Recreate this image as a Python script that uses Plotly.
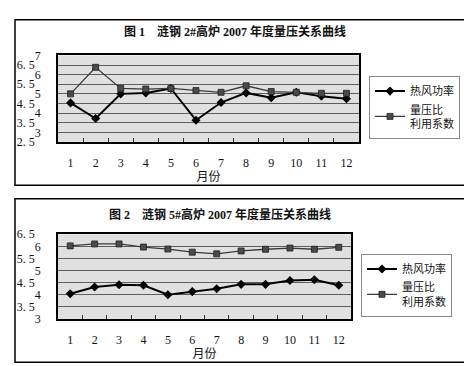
import plotly.graph_objects as go

months = [str(i) for i in range(1, 13)]

# Figure 1: 涟钢 2#高炉
f1_power = [4.53, 3.72, 5.0, 5.05, 5.28, 3.63, 4.55, 5.05, 4.8, 5.08, 4.88, 4.75]
f1_ratio = [5.0, 6.38, 5.28, 5.25, 5.28, 5.17, 5.08, 5.42, 5.12, 5.08, 5.03, 5.03]
# Figure 2: 涟钢 5#高炉
f2_power = [4.04, 4.32, 4.41, 4.39, 4.0, 4.13, 4.25, 4.43, 4.43, 4.59, 4.62, 4.39]
f2_ratio = [6.02, 6.1, 6.1, 5.97, 5.89, 5.76, 5.69, 5.81, 5.88, 5.93, 5.88, 5.96]

title1 = "图 1　涟钢 2#高炉 2007 年度量压关系曲线"
title2 = "图 2　涟钢 5#高炉 2007 年度量压关系曲线"
name_power = "热风功率"
name_ratio = "量压比<br>利用系数"
xlabel = "月份"

# y ticks: half steps and whole steps are printed in two staggered columns
y1_half = [2.5, 3.5, 4.5, 5.5, 6.5]
y1_half_lbl = ["2. 5", "3. 5", "4. 5", "5. 5", "6. 5"]
y1_int = [3, 4, 5, 6, 7]
y1_int_lbl = ["3", "4", "5", "6", "7"]
y2_half = [3.5, 4.5, 5.5, 6.5]
y2_half_lbl = ["3. 5", "4. 5", "5. 5", "6. 5"]
y2_int = [3, 4, 5, 6]
y2_int_lbl = ["3", "4", "5", "6"]

W, H = 472, 366
FONT = "Liberation Serif, Noto Sans CJK SC, serif"


def px_x(v):
    return v / W


def px_y(v):
    return 1 - v / H


fig = go.Figure()

for (pw, rt, xa, ya, yb, lg) in [(f1_power, f1_ratio, "x", "y", "y3", "legend"),
                                  (f2_power, f2_ratio, "x2", "y2", "y4", "legend2")]:
    # invisible carrier so the second (whole-step) tick column is rendered
    fig.add_trace(go.Scatter(x=months, y=pw, mode="lines", line=dict(width=0),
                             opacity=0, showlegend=False, hoverinfo="skip",
                             xaxis=xa, yaxis=yb))
    fig.add_trace(go.Scatter(x=months, y=pw, name=name_power, mode="lines+markers",
                             line=dict(color="black", width=2),
                             marker=dict(symbol="diamond", size=7, color="black"),
                             xaxis=xa, yaxis=ya, legend=lg))
    fig.add_trace(go.Scatter(x=months, y=rt, name=name_ratio, mode="lines+markers",
                             line=dict(color="#3a3a3a", width=1.3),
                             marker=dict(symbol="square", size=6, color="#4a4a4a",
                                         line=dict(color="#222", width=0.8)),
                             xaxis=xa, yaxis=ya, legend=lg))

xcommon = dict(type="category", range=[-0.5, 11.5], showgrid=False,
               showline=True, mirror=True, linecolor="black", linewidth=1.5,
               ticks="inside", tickson="boundaries", ticklen=4, tickcolor="#333",
               ticklabelstandoff=9,
               tickfont=dict(size=12, color="#111", family=FONT),
               title=dict(text=xlabel, font=dict(size=12, color="#111", family=FONT), standoff=3))
ycommon = dict(showgrid=True, gridcolor="#5e5e5e", gridwidth=1.4, zeroline=False,
               showline=True, mirror=True, linecolor="black", linewidth=1.5,
               ticks="", tickfont=dict(size=12, color="#111", family=FONT))

legend_common = dict(xanchor="left", yanchor="top", bordercolor="#888", borderwidth=1,
                     bgcolor="white", font=dict(size=11, family=FONT, color="#111"),
                     tracegroupgap=0, itemwidth=30)

dom1_x = [px_x(50), px_x(351)]
dom1_y = [px_y(132), px_y(42)]
dom2_x = [px_x(50), px_x(343)]
dom2_y = [px_y(316), px_y(228)]

fig.update_layout(
    width=W, height=H,
    margin=dict(l=0, r=0, t=0, b=0),
    paper_bgcolor="white", plot_bgcolor="#e0e0e0",
    font=dict(family=FONT, color="#111"),
    xaxis=dict(domain=dom1_x, anchor="y", **xcommon),
    yaxis=dict(domain=dom1_y, anchor="x", range=[2.5, 7], tickvals=y1_half,
               ticktext=y1_half_lbl, ticklabelstandoff=19, **ycommon),
    yaxis3=dict(domain=dom1_y, anchor="x", overlaying="y", range=[2.5, 7], tickvals=y1_int,
                ticktext=y1_int_lbl, ticklabelstandoff=13, **ycommon),
    xaxis2=dict(domain=dom2_x, anchor="y2", **xcommon),
    yaxis2=dict(domain=dom2_y, anchor="x2", range=[3, 6.5], tickvals=y2_half,
                ticktext=y2_half_lbl, ticklabelstandoff=19, **ycommon),
    yaxis4=dict(domain=dom2_y, anchor="x2", overlaying="y2", range=[3, 6.5], tickvals=y2_int,
                ticktext=y2_int_lbl, ticklabelstandoff=13, **ycommon),
    legend=dict(x=px_x(361), y=px_y(63), **legend_common),
    legend2=dict(x=px_x(353), y=px_y(248), **legend_common),
    shapes=[
        dict(type="rect", xref="paper", yref="paper", x0=px_x(7), x1=px_x(467),
             y0=px_y(177), y1=px_y(5), line=dict(color="black", width=1.5)),
        dict(type="rect", xref="paper", yref="paper", x0=px_x(7), x1=px_x(465),
             y0=px_y(361), y1=px_y(191), line=dict(color="black", width=1.5)),
    ],
    annotations=[
        dict(text="<b>" + title1 + "</b>", xref="paper", yref="paper", x=px_x(227), y=px_y(17),
             xanchor="center", yanchor="middle", showarrow=False,
             font=dict(size=12, family=FONT, color="#111")),
        dict(text="<b>" + title2 + "</b>", xref="paper", yref="paper", x=px_x(212), y=px_y(207),
             xanchor="center", yanchor="middle", showarrow=False,
             font=dict(size=12, family=FONT, color="#111")),
    ],
)

fig.write_html("out.html")
